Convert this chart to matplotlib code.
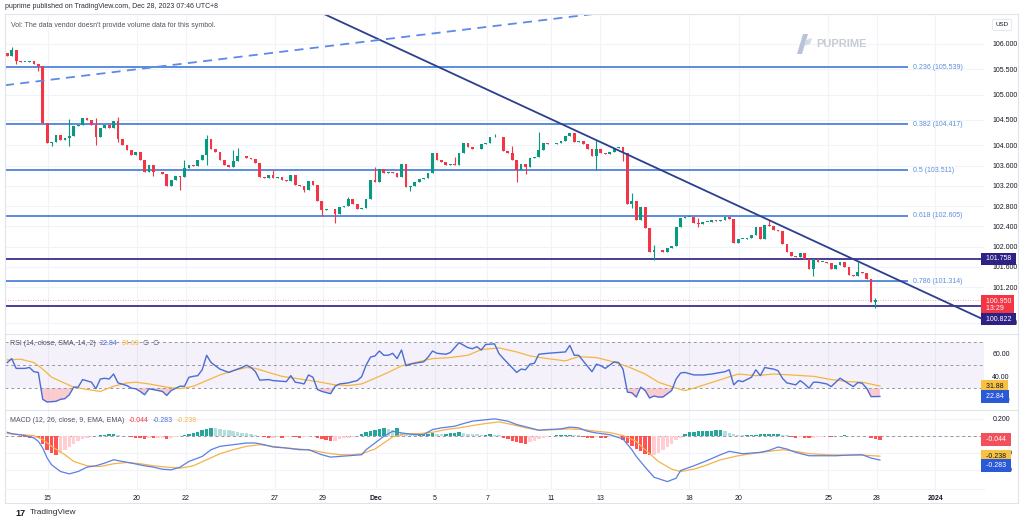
import numpy as np
import matplotlib.pyplot as plt
import matplotlib.transforms as mtransforms
from matplotlib.lines import Line2D
from matplotlib.patches import Polygon

plt.rcParams['font.family'] = ['Liberation Sans', 'DejaVu Sans']

# ==============================
# Price data (4h candles, US dollar index)
# ==============================
first_open = 105.82
closes = [
    105.76, 105.88, 105.67, 105.65, 105.65, 105.67, 105.60, 105.56, 104.43, 104.05,
    104.06, 104.20, 104.10, 104.15, 104.18, 104.38, 104.40, 104.53, 104.50, 104.40,
    104.16, 104.35, 104.40, 104.35, 104.48, 104.12, 104.00, 103.91, 103.81, 103.86,
    103.70, 103.48, 103.61, 103.48, 103.47, 103.44, 103.19, 103.31, 103.39, 103.37,
    103.55, 103.61, 103.59, 103.71, 103.80, 104.12, 103.92, 103.87, 103.70, 103.61,
    103.58, 103.68, 103.79, 103.78, 103.74, 103.72, 103.65, 103.38, 103.36, 103.41,
    103.35, 103.38, 103.31, 103.30, 103.41, 103.22, 103.20, 103.12, 103.30, 103.22,
    102.90, 102.72, 102.74, 102.75, 102.65, 102.79, 102.80, 102.93, 102.84, 102.74,
    102.76, 102.93, 103.31, 103.28, 103.54, 103.45, 103.47, 103.46, 103.37, 103.64,
    103.17, 103.19, 103.28, 103.33, 103.35, 103.46, 103.84, 103.70, 103.66, 103.62,
    103.63, 103.62, 103.84, 104.05, 103.96, 103.92, 103.93, 104.02, 104.05, 104.16,
    104.17, 104.16, 103.89, 103.85, 103.71, 103.51, 103.64, 103.58, 103.74, 103.77,
    103.91, 104.04, 104.02, 104.03, 104.05, 104.09, 104.19, 104.25, 104.06, 104.08,
    104.02, 103.92, 103.78, 103.92, 103.85, 103.83, 103.87, 103.94, 103.97, 103.84,
    102.85, 102.90, 102.53, 102.79, 102.36, 101.90, 101.94, 101.93, 101.90, 101.97,
    102.01, 102.38, 102.56, 102.59, 102.59, 102.46, 102.45, 102.49, 102.49, 102.53,
    102.51, 102.53, 102.59, 102.55, 102.07, 102.16, 102.16, 102.18, 102.23, 102.39,
    102.16, 102.43, 102.41, 102.33, 102.30, 102.05, 101.90, 101.81, 101.80, 101.87,
    101.75, 101.55, 101.75, 101.70, 101.70, 101.68, 101.55, 101.64, 101.70, 101.59,
    101.44, 101.42, 101.50, 101.47, 101.37, 100.91, 100.94, 100.95,
]
# visible wicks (bar index -> price)
wick_high = {1: 105.93, 14: 104.51, 20: 104.53, 25: 104.55, 40: 103.70, 45: 104.20,
             51: 103.91, 52: 103.94, 60: 103.52, 77: 102.98, 83: 103.58, 101: 103.77,
             110: 104.23, 114: 103.98, 120: 104.27, 133: 104.10, 141: 103.05,
             146: 102.03, 156: 102.56, 172: 102.53, 192: 101.70, 196: 100.98}
wick_low = {2: 105.60, 7: 105.47, 10: 103.99, 14: 103.99, 20: 104.00, 25: 104.07,
            33: 103.39, 39: 103.12, 45: 103.61, 67: 103.08, 71: 102.61, 74: 102.47,
            91: 103.10, 115: 103.28, 117: 103.43, 133: 103.51, 139: 103.68,
            141: 102.77, 146: 101.74, 149: 101.92, 156: 102.38, 182: 101.42, 196: 100.78}

fib_ratios = [0.236, 0.382, 0.5, 0.618, 0.786]
fib_prices = [105.539, 104.417, 103.511, 102.605, 101.314]
level_prices = [101.758, 100.822]
last_price = 100.950
countdown = "13:29"

trend_pts = [(71.5, 106.59), (212.8, 100.87)]
dash_pts = [(0.0, 105.19), (72.8, 105.96)]

price_ticks = [106.0, 105.5, 105.0, 104.5, 104.0, 103.6, 103.2, 102.8, 102.4,
               102.0, 101.6, 101.2, 100.5]
date_pos = [9.1, 29.2, 40.3, 60.4, 71.2, 83.2, 96.5, 108.4, 122.7, 133.8,
            153.9, 165.1, 185.3, 196.3, 209.5]
date_lbl = ["15", "20", "22", "27", "29", "Dec", "5", "7", "11", "13",
            "18", "20", "25", "28", "2024"]

# ==============================
# RSI (14) and its SMA
# ==============================
rsi_pts = [
    (0, 52.3), (1, 55.7), (2, 47.2), (4, 47.2), (5, 48.0), (6, 44.3), (7, 43.7),
    (8, 20.3), (9, 18.0), (11, 18.6), (12, 20.3), (13, 20.9), (14, 24.3), (15, 30.9),
    (16, 30.9), (17, 37.5), (19, 35.2), (20, 29.5), (21, 38.0), (22, 38.6), (23, 38.0),
    (24, 42.3), (25, 34.6), (27, 32.3), (28, 30.0), (29, 29.5), (30, 27.2), (31, 24.3),
    (32, 29.5), (34, 28.0), (35, 27.2), (36, 23.7), (37, 28.0), (39, 31.7), (40, 31.7),
    (41, 39.5), (42, 40.3), (43, 40.9), (44, 46.0), (45, 58.6), (46, 52.3), (48, 46.6),
    (50, 43.7), (51, 45.2), (53, 48.0), (54, 50.0), (55, 48.0), (56, 44.5), (57, 37.0),
    (59, 37.5), (60, 36.6), (62, 36.0), (63, 35.7), (64, 40.9), (65, 35.2), (66, 34.6),
    (67, 33.7), (68, 41.5), (69, 39.5), (70, 28.9), (71, 27.2), (73, 25.2), (74, 31.7),
    (75, 33.7), (77, 34.6), (78, 35.7), (79, 36.6), (80, 40.0), (81, 50.0), (82, 57.0),
    (83, 58.0), (84, 62.3), (85, 58.6), (86, 58.6), (87, 60.3), (88, 55.7), (89, 63.2),
    (90, 49.5), (91, 50.9), (93, 52.3), (94, 52.9), (95, 57.0), (96, 62.3), (97, 60.3),
    (99, 59.5), (100, 60.9), (101, 65.2), (102, 69.5), (104, 65.2), (105, 64.3),
    (106, 66.0), (107, 63.2), (108, 68.0), (110, 68.5), (111, 60.0), (112, 55.7),
    (115, 43.7), (116, 46.6), (117, 46.0), (118, 50.9), (119, 51.7), (120, 59.5),
    (122, 60.3), (124, 60.9), (126, 61.5), (127, 67.2), (128, 58.6), (129, 58.6),
    (130, 53.7), (132, 44.3), (133, 50.9), (134, 49.5), (135, 47.2), (136, 50.0),
    (137, 52.9), (138, 52.3), (139, 46.6), (140, 26.6), (141, 26.0), (142, 22.3),
    (143, 30.9), (144, 28.0), (145, 21.5), (146, 23.2), (147, 22.3), (148, 22.3),
    (150, 28.0), (151, 38.0), (152, 43.2), (153, 43.7), (155, 41.5), (157, 41.5),
    (159, 42.3), (162, 44.3), (163, 46.0), (164, 32.9), (165, 36.6), (166, 35.7),
    (168, 39.5), (169, 46.0), (170, 40.9), (171, 48.0), (172, 47.2), (173, 46.6),
    (174, 45.2), (175, 38.6), (176, 34.6), (178, 32.9), (179, 36.6), (180, 33.7),
    (181, 30.0), (182, 35.2), (183, 35.2), (185, 33.7), (186, 31.4), (188, 38.7),
    (190, 33.7), (191, 31.4), (192, 34.9), (193, 34.3), (194, 30.0), (195, 22.7),
    (196, 22.7), (197, 22.84),
]
rsi_ma_pts = [
    (0, 54.6), (3, 55.2), (6, 52.3), (8, 46.6), (10, 39.5), (13, 34.3), (15, 30.9),
    (18, 28.9), (21, 27.2), (24, 31.7), (27, 34.6), (29, 35.2), (32, 33.7), (36, 30.9),
    (39, 29.5), (42, 31.7), (45, 36.6), (48, 41.5), (51, 45.2), (54, 48.0), (56, 47.2),
    (59, 43.7), (62, 40.3), (66, 38.0), (70, 35.7), (74, 32.9), (77, 32.3), (80, 33.7),
    (83, 38.6), (86, 43.7), (89, 49.4), (92, 52.3), (96, 55.7), (100, 56.6), (104, 58.6),
    (107, 63.5), (111, 65.0), (115, 61.5), (118, 58.0), (122, 55.7), (126, 53.7),
    (129, 57.4), (133, 56.6), (136, 53.7), (140, 48.9), (144, 42.3), (147, 35.2),
    (151, 30.0), (153, 28.0), (155, 30.0), (158, 33.7), (162, 38.6), (165, 42.3),
    (169, 40.9), (173, 42.3), (177, 41.5), (182, 40.3), (186, 37.5), (190, 35.7),
    (193, 35.2), (197, 31.88),
]

# ==============================
# MACD (12, 26, 9)
# ==============================
macd_hist = [
    0.005, 0.005, 0.0, -0.01, -0.015, -0.02, -0.02, -0.03, -0.10, -0.16,
    -0.20, -0.22, -0.20, -0.16, -0.13, -0.09, -0.06, -0.035, -0.025, -0.012,
    -0.004, 0.008, 0.012, 0.02, 0.028, 0.012, 0.004, 0.002, -0.012, -0.02,
    -0.026, -0.035, -0.024, -0.028, -0.024, -0.02, -0.035, -0.022, -0.012, -0.004,
    0.012, 0.024, 0.035, 0.05, 0.065, 0.085, 0.092, 0.09, 0.083, 0.075,
    0.067, 0.055, 0.047, 0.04, 0.032, 0.024, 0.012, 0.004, -0.012, -0.02,
    -0.02, -0.012, -0.02, -0.012, -0.004, -0.016, -0.024, -0.016, -0.012, -0.004,
    -0.02, -0.035, -0.05, -0.065, -0.06, -0.035, -0.028, -0.02, -0.012, -0.004,
    0.02, 0.043, 0.059, 0.075, 0.083, 0.09, 0.083, 0.075, 0.09, 0.035,
    0.024, 0.02, 0.016, 0.016, 0.02, 0.028, 0.032, 0.028, 0.024, 0.028,
    0.035, 0.04, 0.043, 0.04, 0.028, 0.024, 0.02, 0.016, 0.016, 0.024,
    0.016, 0.012, -0.02, -0.04, -0.06, -0.075, -0.085, -0.09, -0.075, -0.055,
    -0.04, -0.025, -0.012, 0.004, 0.008, 0.01, 0.012, 0.016, 0.012, 0.008,
    -0.008, -0.02, -0.028, -0.016, -0.024, -0.028, -0.016, -0.012, -0.008, -0.045,
    -0.083, -0.115, -0.154, -0.18, -0.209, -0.22, -0.22, -0.20, -0.17, -0.13,
    -0.09, -0.05, -0.02, 0.024, 0.043, 0.05, 0.055, 0.058, 0.06, 0.062,
    0.065, 0.067, 0.06, 0.035, 0.02, 0.012, 0.008, 0.008, 0.012, 0.016,
    0.02, 0.02, 0.024, 0.024, 0.024, 0.016, 0.008, -0.016, -0.02, -0.016,
    -0.024, -0.028, -0.02, -0.012, -0.008, -0.004, -0.012, -0.004, 0.004, 0.008,
    0.004, -0.004, -0.004, -0.002, -0.004, -0.03, -0.038, -0.044,
]
macd_pts = [
    (0, 0.043), (1, 0.027), (4, 0.004), (6, -0.024), (7, -0.063), (8, -0.142),
    (9, -0.26), (10, -0.339), (12, -0.418), (14, -0.446), (16, -0.418), (18, -0.367),
    (20, -0.351), (22, -0.319), (24, -0.28), (26, -0.30), (28, -0.319), (31, -0.351),
    (33, -0.367), (35, -0.391), (37, -0.399), (39, -0.367), (41, -0.30), (44, -0.241),
    (46, -0.162), (48, -0.122), (51, -0.103), (54, -0.083), (56, -0.083), (58, -0.103),
    (60, -0.13), (63, -0.142), (66, -0.162), (68, -0.162), (71, -0.221), (73, -0.249),
    (75, -0.241), (77, -0.233), (80, -0.221), (81, -0.162), (83, -0.083), (85, -0.004),
    (87, 0.055), (89, 0.035), (92, 0.016), (94, 0.016), (96, 0.075), (98, 0.095),
    (101, 0.114), (103, 0.146), (105, 0.174), (107, 0.185), (110, 0.201), (113, 0.174),
    (115, 0.134), (118, 0.095), (120, 0.067), (122, 0.075), (125, 0.083), (127, 0.104),
    (129, 0.095), (131, 0.055), (133, 0.035), (136, 0.015), (139, -0.036), (141, -0.162),
    (142, -0.241), (144, -0.367), (146, -0.485), (149, -0.537), (151, -0.497),
    (152, -0.407), (155, -0.351), (158, -0.289), (161, -0.221), (163, -0.181),
    (166, -0.209), (170, -0.193), (172, -0.170), (174, -0.130), (176, -0.154),
    (178, -0.193), (181, -0.233), (184, -0.233), (187, -0.233), (190, -0.225),
    (193, -0.221), (195, -0.26), (197, -0.283),
]
signal_pts = [
    (0, 0.027), (3, 0.016), (6, 0.004), (8, -0.043), (10, -0.122), (13, -0.221),
    (15, -0.30), (18, -0.351), (21, -0.359), (24, -0.327), (27, -0.312), (30, -0.327),
    (33, -0.351), (36, -0.367), (39, -0.379), (42, -0.351), (45, -0.28), (48, -0.209),
    (51, -0.162), (54, -0.122), (57, -0.103), (60, -0.122), (63, -0.142), (66, -0.154),
    (69, -0.17), (72, -0.201), (75, -0.221), (78, -0.221), (80, -0.209), (83, -0.154),
    (85, -0.083), (87, -0.012), (90, 0.027), (93, 0.027), (96, 0.043), (99, 0.075),
    (102, 0.095), (105, 0.122), (108, 0.146), (111, 0.165), (114, 0.134), (117, 0.095),
    (120, 0.067), (124, 0.075), (127, 0.083), (130, 0.075), (133, 0.055), (136, 0.040),
    (139, 0.004), (142, -0.064), (144, -0.162), (147, -0.30), (150, -0.391),
    (152, -0.419), (155, -0.391), (158, -0.340), (161, -0.281), (165, -0.233),
    (168, -0.209), (172, -0.181), (175, -0.162), (178, -0.181), (181, -0.209),
    (185, -0.221), (189, -0.225), (193, -0.225), (197, -0.238),
]

# ==============================
# Colours
# ==============================
UP, DOWN = '#089981', '#f23645'
GRID = '#f0f3fa'
FRAME = '#e0e3eb'
TXT = '#131722'
FIB = '#3f78d8'
LEVEL = '#4a3c96'
LEVEL_BOX = '#2d2284'

W, H = 1024, 524
fig = plt.figure(figsize=(W / 100, H / 100), dpi=100)
fig.patch.set_facecolor('white')


def px_axes(x0, y0, x1, y1):
    return fig.add_axes([x0 / W, 1 - y1 / H, (x1 - x0) / W, (y1 - y0) / H])


def fig_line(x0, y0, x1, y1, color=FRAME, lw=0.8):
    fig.add_artist(Line2D([x0 / W, x1 / W], [1 - y0 / H, 1 - y1 / H],
                          transform=fig.transFigure, color=color, lw=lw))


ax_p = px_axes(5, 14, 984, 333.5)
ax_r = px_axes(5, 333.5, 984, 409.5)
ax_m = px_axes(5, 409.5, 984, 489)

XMIN, XMAX = -0.52, 220.5
for ax in (ax_p, ax_r, ax_m):
    ax.set_xlim(XMIN, XMAX)
    ax.set_facecolor('white')
    for s in ax.spines.values():
        s.set_visible(False)
    ax.set_xticks(date_pos)
    ax.yaxis.tick_right()
    ax.tick_params(axis='both', length=0, labelsize=5, labelcolor=TXT)
    ax.tick_params(axis='y', pad=6)
    ax.tick_params(axis='x', labelbottom=False)
    ax.grid(True, color=GRID, lw=0.8)
    ax.set_axisbelow(True)


def scale_box(ax, trans, y, text, fc, tc='white'):
    # value tag on the right-hand scale, covering the tick label beneath it
    ax.text(1.0, y, f" {text} ", transform=trans, ha='left', va='center', fontsize=5,
            color=tc, clip_on=False, zorder=10, linespacing=1.1,
            bbox=dict(boxstyle='square,pad=0.4', fc=fc, ec='none'))


# ------------------------------
# Main price pane
# ------------------------------
n = len(closes)
idx = np.arange(n)
c = np.array(closes)
o = np.concatenate([[first_open], c[:-1]])
hi = np.maximum(o, c)
lo = np.minimum(o, c)
body_lo = np.minimum(o, c)
for k, v in wick_high.items():
    hi[k] = max(hi[k], v)
for k, v in wick_low.items():
    lo[k] = min(lo[k], v)
cols = np.where(c >= o, UP, DOWN)

ax_p.set_ylim(100.286, 106.59)
ax_p.set_yticks(price_ticks)
ax_p.set_yticklabels([f"{v:.3f}" for v in price_ticks])

ax_p.vlines(idx, lo, hi, colors=cols, lw=0.8, zorder=3)
ax_p.bar(idx, np.maximum(np.abs(c - o), 0.012), bottom=body_lo,
         width=0.62, color=cols, zorder=4)

fib_end = 203.3
for r, p in zip(fib_ratios, fib_prices):
    ax_p.hlines(p, XMIN, fib_end, color=FIB, lw=1.2, zorder=2)
    ax_p.text(fib_end + 1.1, p, f"{r} ({p:.3f})", color='#5b8fdc', fontsize=5,
              va='center', ha='left')

for p in level_prices:
    ax_p.axhline(p, color=LEVEL, lw=1.4, zorder=2)

ax_p.axhline(last_price, color=DOWN, lw=0.6, ls=(0, (1, 2)), alpha=0.6, zorder=2)

ax_p.axline(trend_pts[0], trend_pts[1], color='#2c3f8f', lw=1.3, zorder=5)
ax_p.axline(dash_pts[0], dash_pts[1], color='#5d8ae8', lw=1.3, ls=(0, (5, 3.5)), zorder=5)

ax_p.text(0.006, 0.965, "Vol: The data vendor doesn't provide volume data for this symbol.",
          transform=ax_p.transAxes, fontsize=5, color='#50535e', va='center')

trans_p = mtransforms.blended_transform_factory(ax_p.transAxes, ax_p.transData)
scale_box(ax_p, trans_p, level_prices[0], f"{level_prices[0]:.3f}", LEVEL_BOX)
scale_box(ax_p, trans_p, last_price - 0.10, f"{last_price:.3f}\n {countdown}", DOWN)
scale_box(ax_p, trans_p, level_prices[1] - 0.25, f"{level_prices[1]:.3f}", LEVEL_BOX)

# ------------------------------
# RSI pane
# ------------------------------
rsi_x, rsi_y = np.array(rsi_pts).T
ma_x, ma_y = np.array(rsi_ma_pts).T
ax_r.set_ylim(11.5, 77.5)
ax_r.set_yticks([60, 40, 20])
ax_r.set_yticklabels(["60.00", "40.00", "20.00"])
ax_r.grid(False, axis='y')
ax_r.axhspan(30, 70, color='#7e57c2', alpha=0.08, lw=0)
for lvl in (70, 50, 30):
    ax_r.axhline(lvl, color='#9598a1', lw=0.7, ls=(0, (3, 3)))
ax_r.fill_between(rsi_x, rsi_y, 30, where=rsi_y < 30, interpolate=True,
                  color='#f7a9b0', alpha=0.6, lw=0)
ax_r.plot(ma_x, ma_y, color='#f4b63f', lw=0.9)
ax_r.plot(rsi_x, rsi_y, color='#4a6cd4', lw=1.0)

trans_r = mtransforms.blended_transform_factory(ax_r.transAxes, ax_r.transData)
scale_box(ax_r, trans_r, ma_y[-1], f"{ma_y[-1]:.2f}", '#f8c142', TXT)
scale_box(ax_r, trans_r, rsi_y[-1], f"{rsi_y[-1]:.2f}", '#2a5ad8')

# ------------------------------
# MACD pane
# ------------------------------
h = np.array(macd_hist)
prev = np.concatenate([[0.0], h[:-1]])
hcols = np.where(h >= 0,
                 np.where(h >= prev, '#26a69a', '#b2dfdb'),
                 np.where(h < prev, '#ff5252', '#ffcdd2'))
m_x, m_y = np.array(macd_pts).T
s_x, s_y = np.array(signal_pts).T
ax_m.set_ylim(-0.624, 0.311)
ax_m.set_yticks([0.2, 0.0, -0.2, -0.4])
ax_m.set_yticklabels(["0.200", "0.000", "-0.200", "-0.400"])
ax_m.bar(idx, h, width=0.78, color=hcols, zorder=2)
ax_m.axhline(0, color='#9598a1', lw=0.7, ls=(0, (3, 3)), zorder=1)
ax_m.plot(s_x, s_y, color='#f6b24c', lw=0.9, zorder=3)
ax_m.plot(m_x, m_y, color='#5b7fe3', lw=0.9, zorder=3)

trans_m = mtransforms.blended_transform_factory(ax_m.transAxes, ax_m.transData)
scale_box(ax_m, trans_m, h[-1], f"{h[-1]:.3f}", '#f0515b')
scale_box(ax_m, trans_m, s_y[-1], f"{s_y[-1]:.3f}", '#f8c142', TXT)
scale_box(ax_m, trans_m, m_y[-1] - 0.065, f"{m_y[-1]:.3f}", '#2a5ad8')

ax_m.tick_params(axis='x', labelbottom=True, pad=4)
ax_m.set_xticklabels(date_lbl)
for t in ax_m.get_xticklabels():
    if t.get_text() in ("Dec", "2024"):
        t.set_fontweight('bold')

# ------------------------------
# Legends of the indicator panes
# ------------------------------
renderer = fig.canvas.get_renderer()


def chain_text(x, y, parts):
    for s, col in parts:
        t = fig.text(x / W, 1 - y / H, s, color=col, fontsize=5, va='center', ha='left')
        x = t.get_window_extent(renderer).x1 + 4


chain_text(10, 343.5, [("RSI (14, close, SMA, 14, 2)", '#50535e'), ("22.84", '#4a6cd4'),
                       ("34.69", '#f4b63f'), ("\u2205  \u2205", '#50535e')])
chain_text(10, 420, [("MACD (12, 26, close, 9, EMA, EMA)", '#50535e'), ("-0.044", '#f23645'),
                     ("-0.283", '#4a6cd4'), ("-0.238", '#f4b63f')])

# ------------------------------
# Frame, header, logos
# ------------------------------
fig_line(5, 14, 1018, 14)
fig_line(5, 503, 1018, 503)
fig_line(5, 14, 5, 503)
fig_line(1018, 14, 1018, 503)
fig_line(5, 333.5, 1018, 333.5)
fig_line(5, 409.5, 1018, 409.5)
fig_line(5, 489, 984, 489, color='#f0f3fa')

fig.text(5 / W, 1 - 7 / H, "puprime published on TradingView.com, Dec 28, 2023 07:46 UTC+8",
         fontsize=5, color='#2a2e39', va='center')

fig.text(1002 / W, 1 - 25 / H, "USD", fontsize=4.5, color=TXT, ha='center', va='center',
         bbox=dict(boxstyle='round,pad=0.5,rounding_size=0.3', fc='white', ec=FRAME, lw=0.6))

# PU Prime watermark
fig.add_artist(Polygon([(797 / W, 1 - 54 / H), (803 / W, 1 - 34 / H), (808 / W, 1 - 34 / H),
                        (802 / W, 1 - 54 / H)], closed=True, transform=fig.transFigure,
                       fc='#b8c3d8', ec='none'))
fig.add_artist(Polygon([(804 / W, 1 - 46 / H), (806 / W, 1 - 40 / H), (812 / W, 1 - 38 / H),
                        (810 / W, 1 - 44 / H)], closed=True, transform=fig.transFigure,
                       fc='#d3dae7', ec='none'))
fig.text(816 / W, 1 - 44 / H, "PUPRIME", fontsize=8, fontweight='bold', color='#c7cbd4',
         va='center')

# TradingView logo
fig.text(15 / W, 1 - 513 / H, "17", fontsize=6.5, fontweight='bold', color='#131722',
         va='center')
fig.text(30 / W, 1 - 513 / H, "TradingView", fontsize=6, color='#2a2e39', va='center')

fig.savefig('out.png', dpi=100, facecolor='white')
